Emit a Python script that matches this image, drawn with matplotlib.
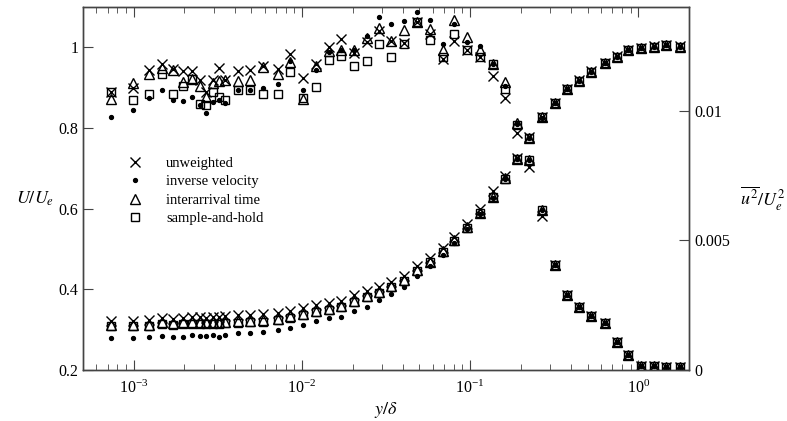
import matplotlib
matplotlib.use("Agg")
import matplotlib.pyplot as plt
from matplotlib.ticker import FixedLocator, LogLocator, NullFormatter

plt.rcParams["font.family"] = ["Liberation Serif", "DejaVu Serif"]
plt.rcParams["mathtext.fontset"] = "stix"

# wall distance y/delta (shared by all series)
y_delta = [
    7.30e-4, 9.9e-4, 1.233e-3, 1.482e-3, 1.723e-3, 1.976e-3, 2.236e-3, 2.465e-3,
    2.702e-3, 2.960e-3, 3.198e-3, 3.467e-3, 4.143e-3, 4.924e-3, 5.861e-3, 7.167e-3,
    8.48e-3, 1.01e-2, 1.212e-2, 1.442e-2, 1.707e-2, 2.04e-2, 2.437e-2, 2.854e-2,
    3.387e-2, 4.047e-2, 4.836e-2, 5.741e-2, 6.879e-2, 8.03e-2, 9.60e-2, 0.1139,
    0.1361, 0.1616, 0.1892, 0.2245, 0.2683, 0.3176, 0.3779, 0.4412,
    0.5252, 0.6301, 0.7499, 0.8683, 1.042, 1.24, 1.468, 1.762,
]

# mean velocity U/Ue
U_unweighted = [
    0.321, 0.322, 0.323, 0.328, 0.327, 0.330, 0.332, 0.331,
    0.330, 0.332, 0.331, 0.333, 0.336, 0.336, 0.338, 0.342,
    0.347, 0.354, 0.360, 0.366, 0.372, 0.385, 0.396, 0.406,
    0.419, 0.433, 0.457, 0.478, 0.503, 0.531, 0.562, 0.598,
    0.643, 0.680, 0.726, 0.777, 0.828, 0.863, 0.897, 0.918,
    0.941, 0.961, 0.978, 0.994, 0.999, 1.003, 1.006, 1.003,
]
U_inverse = [
    0.279, 0.280, 0.281, 0.285, 0.283, 0.283, 0.286, 0.285,
    0.284, 0.287, 0.283, 0.288, 0.292, 0.292, 0.294, 0.298,
    0.304, 0.311, 0.321, 0.329, 0.332, 0.347, 0.357, 0.373,
    0.389, 0.405, 0.432, 0.458, 0.485, 0.515, 0.550, 0.588,
    0.627, 0.673, 0.722, 0.774, 0.826, 0.862, 0.896, 0.917,
    0.940, 0.960, 0.977, 0.993, 0.998, 1.002, 1.005, 1.002,
]
U_interarrival = [
    0.311, 0.311, 0.312, 0.318, 0.316, 0.318, 0.319, 0.319,
    0.318, 0.319, 0.319, 0.320, 0.321, 0.321, 0.323, 0.327,
    0.333, 0.340, 0.346, 0.352, 0.358, 0.372, 0.383, 0.394,
    0.408, 0.423, 0.447, 0.469, 0.494, 0.522, 0.554, 0.590,
    0.629, 0.675, 0.723, 0.775, 0.827, 0.862, 0.896, 0.917,
    0.940, 0.960, 0.977, 0.993, 0.998, 1.002, 1.005, 1.002,
]
U_sample_hold = [
    0.308, 0.308, 0.309, 0.314, 0.312, 0.314, 0.315, 0.315,
    0.314, 0.315, 0.315, 0.316, 0.317, 0.318, 0.320, 0.324,
    0.330, 0.337, 0.343, 0.349, 0.355, 0.369, 0.380, 0.392,
    0.406, 0.421, 0.445, 0.467, 0.492, 0.520, 0.552, 0.589,
    0.628, 0.674, 0.722, 0.774, 0.827, 0.862, 0.896, 0.917,
    0.940, 0.960, 0.977, 0.993, 0.998, 1.002, 1.005, 1.002,
]

# streamwise normal stress u'^2/Ue^2
uu_unweighted = [
    0.010703, 0.010873, 0.011552, 0.011784, 0.011614, 0.011521, 0.011521, 0.011166,
    0.010703, 0.011197, 0.011645, 0.011166, 0.011521, 0.011583, 0.011707, 0.011614,
    0.012201, 0.011259, 0.011784, 0.012448, 0.012772, 0.012232, 0.012633, 0.013066,
    0.012680, 0.012618, 0.013421, 0.012958, 0.012000, 0.012680, 0.012355, 0.012077,
    0.011320, 0.010486, 0.009143, 0.007846, 0.005946, 0.004054, 0.002896, 0.002440,
    0.002085, 0.001807, 0.001097, 0.000579, 0.000170, 0.000170, 0.000124, 0.000124,
]
uu_inverse = [
    0.009776, 0.010039, 0.010471, 0.010811, 0.010425, 0.010363, 0.010548, 0.010239,
    0.009930, 0.010317, 0.010425, 0.010301, 0.010811, 0.010811, 0.010873, 0.011012,
    0.011907, 0.010811, 0.011583, 0.012278, 0.012355, 0.012324, 0.012896, 0.013622,
    0.013359, 0.013452, 0.013822, 0.013514, 0.012556, 0.013359, 0.012664, 0.012510,
    0.011815, 0.010934, 0.009498, 0.008108, 0.006178, 0.004054, 0.002896, 0.002440,
    0.002085, 0.001807, 0.001097, 0.000579, 0.000170, 0.000170, 0.000124, 0.000124,
]
uu_interarrival = [
    0.010456, 0.011073, 0.011429, 0.011645, 0.011552, 0.011089, 0.011228, 0.010965,
    0.010548, 0.011073, 0.011135, 0.011197, 0.011135, 0.011166, 0.011676, 0.011429,
    0.011861, 0.010456, 0.011738, 0.012293, 0.012355, 0.012355, 0.012803, 0.013189,
    0.012680, 0.013097, 0.013421, 0.013158, 0.012355, 0.013483, 0.012850, 0.012324,
    0.011815, 0.011089, 0.009529, 0.008108, 0.006178, 0.004054, 0.002896, 0.002440,
    0.002085, 0.001807, 0.001097, 0.000579, 0.000170, 0.000170, 0.000124, 0.000124,
]
uu_sample_hold = [
    0.010703, 0.010425, 0.010641, 0.011429, 0.010656, 0.010934, 0.011228, 0.010270,
    0.010239, 0.010703, 0.010548, 0.010425, 0.010811, 0.010811, 0.010656, 0.010656,
    0.011475, 0.010486, 0.010919, 0.011938, 0.012093, 0.011707, 0.011907, 0.012571,
    0.012077, 0.012571, 0.013421, 0.012710, 0.012077, 0.012958, 0.012355, 0.012077,
    0.011815, 0.010842, 0.009459, 0.008108, 0.006178, 0.004054, 0.002896, 0.002440,
    0.002085, 0.001807, 0.001097, 0.000579, 0.000170, 0.000170, 0.000124, 0.000124,
]

labels = ["unweighted", "inverse velocity", "interarrival time", "sample-and-hold"]
styles = [
    dict(marker="x", markersize=6.5, markeredgewidth=1.0, color="black"),
    dict(marker="o", markersize=2.8, color="black"),
    dict(marker="^", markersize=7.5, markeredgewidth=1.0, color="black", fillstyle="none"),
    dict(marker="s", markersize=5.5, markeredgewidth=1.0, color="black", fillstyle="none"),
]

fig = plt.figure(figsize=(7.87, 4.21), dpi=100)
ax = fig.add_axes([0.1055, 0.1211, 0.77, 0.8623])
ax2 = ax.twinx()

U_sets = [U_unweighted, U_inverse, U_interarrival, U_sample_hold]
uu_sets = [uu_unweighted, uu_inverse, uu_interarrival, uu_sample_hold]

handles = []
for vals, st, lab in zip(U_sets, styles, labels):
    h, = ax.plot(y_delta, vals, linestyle="none", label=lab, **st)
    handles.append(h)
for vals, st in zip(uu_sets, styles):
    ax2.plot(y_delta, vals, linestyle="none", **st)

ax.set_xscale("log")
ax.set_xlim(5e-4, 2.0)
ax.set_ylim(0.2, 1.1)
ax2.set_ylim(0, 0.014)

ax.yaxis.set_major_locator(FixedLocator([0.2, 0.4, 0.6, 0.8, 1.0]))
ax.set_yticklabels(["0.2", "0.4", "0.6", "0.8", "1"])
ax2.yaxis.set_major_locator(FixedLocator([0, 0.005, 0.01]))
ax2.set_yticklabels(["0", "0.005", "0.01"])

ax.xaxis.set_major_locator(LogLocator(base=10, numticks=10))
ax.xaxis.set_minor_locator(LogLocator(base=10, subs=range(2, 10), numticks=10))
ax.xaxis.set_minor_formatter(NullFormatter())

spine_col = "#444444"
for a in (ax, ax2):
    for s in a.spines.values():
        s.set_color(spine_col)
        s.set_linewidth(1.0)

ax.tick_params(axis="x", which="both", direction="in", top=True, bottom=True,
               labelsize=11.5, color=spine_col, pad=7)
ax.tick_params(axis="x", which="major", length=7)
ax.tick_params(axis="x", which="minor", length=4)
ax.tick_params(axis="y", direction="in", length=7, labelsize=11.5, color=spine_col, right=False)
ax2.tick_params(axis="y", direction="in", length=7, labelsize=11.5, color=spine_col)

ax.set_xlabel(r"$y/\delta$", fontsize=13, labelpad=2)
ax.set_ylabel(r"$U/U_e$", fontsize=13, rotation=0, va="center", ha="center")
ax.yaxis.set_label_coords(-0.079, 0.472)
ax2.set_ylabel(r"$\overline{u^2}/U_e^2$", fontsize=13, rotation=0, va="center", ha="center")
ax2.yaxis.set_label_coords(1.122, 0.472)

ax.legend(handles=handles, loc="upper left", bbox_to_anchor=(0.058, 0.604),
          frameon=False, fontsize=10.5, handletextpad=1.4, labelspacing=0.36,
          handlelength=1.5, borderaxespad=0)

fig.savefig("out.png", dpi=100)
